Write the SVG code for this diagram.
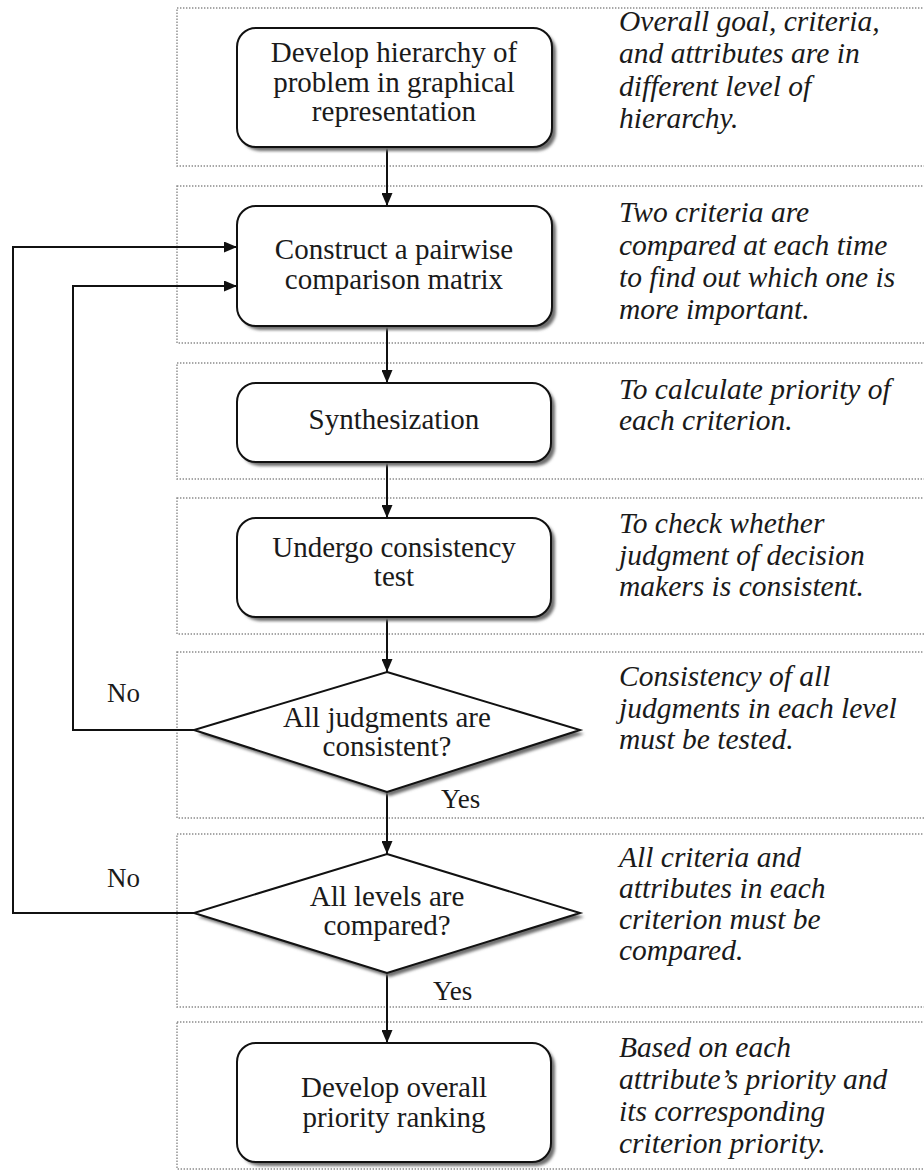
<svg xmlns="http://www.w3.org/2000/svg" width="924" height="1171" viewBox="0 0 924 1171">
<style>
.band{fill:none;stroke:#8a8a8a;stroke-width:1.4;stroke-dasharray:1.4 1.6}
.node{fill:#fff;stroke:#111;stroke-width:2}
.shadow{fill:#6e6e6e;filter:url(#blur)}
.t{font-family:"Liberation Serif","Times New Roman",serif;font-size:29px;fill:#1a1a1a;text-anchor:middle}
.note{font-family:"Liberation Serif","Times New Roman",serif;font-size:29.5px;font-style:italic;fill:#1a1a1a}
.lbl{font-family:"Liberation Serif","Times New Roman",serif;font-size:27px;fill:#1a1a1a}
.conn{fill:none;stroke:#111;stroke-width:2}
</style>
<defs>
<filter id="blur" x="-10%" y="-10%" width="130%" height="130%"><feGaussianBlur stdDeviation="1.4"/></filter>
<marker id="arr" viewBox="0 0 13 11" refX="13" refY="5.5" markerWidth="13" markerHeight="11" orient="auto" markerUnits="userSpaceOnUse"><path d="M0,0 L13,5.5 L0,11 z" fill="#111"/></marker>
</defs>
<rect width="924" height="1171" fill="#fff"/>

<g id="bands">
<rect class="band" x="177" y="8" width="760" height="158"/>
<rect class="band" x="177" y="186" width="760" height="157"/>
<rect class="band" x="177" y="363" width="760" height="116"/>
<rect class="band" x="177" y="498" width="760" height="136"/>
<rect class="band" x="177" y="652" width="760" height="166"/>
<rect class="band" x="177" y="834" width="760" height="173"/>
<rect class="band" x="177" y="1022" width="760" height="147"/>
</g>

<g id="connectors">
<line class="conn" x1="387" y1="147" x2="387" y2="206" marker-end="url(#arr)"/>
<line class="conn" x1="387" y1="326" x2="387" y2="383" marker-end="url(#arr)"/>
<line class="conn" x1="387" y1="462" x2="387" y2="518" marker-end="url(#arr)"/>
<line class="conn" x1="387" y1="617" x2="387" y2="672" marker-end="url(#arr)"/>
<line class="conn" x1="387" y1="792" x2="387" y2="854" marker-end="url(#arr)"/>
<line class="conn" x1="387" y1="973" x2="387" y2="1043" marker-end="url(#arr)"/>
<polyline class="conn" points="194,730 73,730 73,286 237,286" marker-end="url(#arr)"/>
<polyline class="conn" points="194,913 13,913 13,247 237,247" marker-end="url(#arr)"/>
</g>

<g id="n1">
<rect class="shadow" x="241" y="32" width="315" height="119" rx="19"/>
<rect class="node" x="237" y="28" width="315" height="119" rx="19"/>
<text class="t" x="394" y="62">Develop hierarchy of</text>
<text class="t" x="394" y="92">problem in graphical</text>
<text class="t" x="394" y="121">representation</text>
</g>
<g id="n2">
<rect class="shadow" x="241" y="210" width="315" height="120" rx="19"/>
<rect class="node" x="237" y="206" width="315" height="120" rx="19"/>
<text class="t" x="394" y="259">Construct a pairwise</text>
<text class="t" x="394" y="289">comparison matrix</text>
</g>
<g id="n3">
<rect class="shadow" x="241" y="387" width="314" height="79" rx="19"/>
<rect class="node" x="237" y="383" width="314" height="79" rx="19"/>
<text class="t" x="394" y="429">Synthesization</text>
</g>
<g id="n4">
<rect class="shadow" x="241" y="522" width="314" height="99" rx="19"/>
<rect class="node" x="237" y="518" width="314" height="99" rx="19"/>
<text class="t" x="394" y="557">Undergo consistency</text>
<text class="t" x="394" y="586">test</text>
</g>
<g id="n5">
<polygon class="shadow" points="390,676 584,734 390,796 198,734"/>
<polygon class="node" points="387,672 580,730 387,792 194,730"/>
<text class="t" x="387" y="727">All judgments are</text>
<text class="t" x="387" y="756">consistent?</text>
</g>
<g id="n6">
<polygon class="shadow" points="390,858 584,917 390,977 198,917"/>
<polygon class="node" points="387,854 580,913 387,973 194,913"/>
<text class="t" x="387" y="906">All levels are</text>
<text class="t" x="387" y="935">compared?</text>
</g>
<g id="n7">
<rect class="shadow" x="241" y="1047" width="314" height="119" rx="19"/>
<rect class="node" x="237" y="1043" width="314" height="119" rx="19"/>
<text class="t" x="394" y="1097">Develop overall</text>
<text class="t" x="394" y="1127">priority ranking</text>
</g>

<g id="labels">
<text class="lbl" x="107" y="702">No</text>
<text class="lbl" x="107" y="887">No</text>
<text class="lbl" x="441" y="808">Yes</text>
<text class="lbl" x="433" y="1000">Yes</text>
</g>

<g id="notes">
<text class="note" x="619" y="31">Overall goal, criteria,</text>
<text class="note" x="619" y="63">and attributes are in</text>
<text class="note" x="619" y="96">different level of</text>
<text class="note" x="619" y="128">hierarchy.</text>
<text class="note" x="619" y="222">Two criteria are</text>
<text class="note" x="619" y="255">compared at each time</text>
<text class="note" x="619" y="287">to find out which one is</text>
<text class="note" x="619" y="319">more important.</text>
<text class="note" x="619" y="399">To calculate priority of</text>
<text class="note" x="619" y="430">each criterion.</text>
<text class="note" x="619" y="533">To check whether</text>
<text class="note" x="619" y="565">judgment of decision</text>
<text class="note" x="619" y="596">makers is consistent.</text>
<text class="note" x="619" y="686">Consistency of all</text>
<text class="note" x="619" y="718">judgments in each level</text>
<text class="note" x="619" y="749">must be tested.</text>
<text class="note" x="619" y="867">All criteria and</text>
<text class="note" x="619" y="898">attributes in each</text>
<text class="note" x="619" y="929">criterion must be</text>
<text class="note" x="619" y="960">compared.</text>
<text class="note" x="619" y="1057">Based on each</text>
<text class="note" x="619" y="1089">attribute’s priority and</text>
<text class="note" x="619" y="1121">its corresponding</text>
<text class="note" x="619" y="1153">criterion priority.</text>
</g>
</svg>
